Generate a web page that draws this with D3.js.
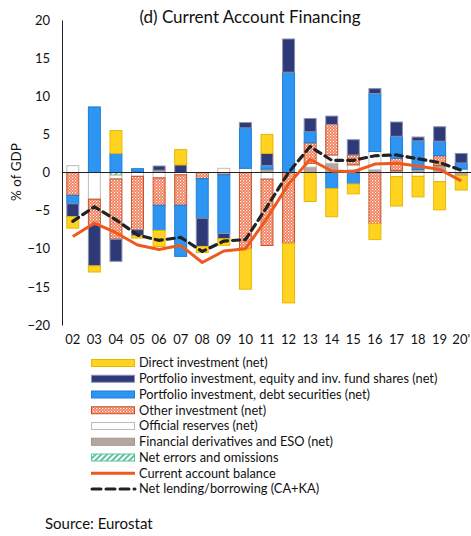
<!DOCTYPE html>
<html><head><meta charset="utf-8">
<script src="https://cdn.jsdelivr.net/npm/d3@7"></script>
<style>body{margin:0;background:#fff;} text{font-family:Lato,"Open Sans",sans-serif;fill:#111;}</style>
</head><body><svg id="c" width="471" height="536"></svg>
<script>
const years = ["02","03","04","05","06","07","08","09","10","11","12","13","14","15","16","17","18","19","20'"];
const directInv   = [-1.5,-0.8, 3.0,-0.3,-2.1, 2.0,-0.8,-0.85,-5.3, 2.5,-7.8,-3.8,-3.7,-1.3,-2.1,-3.85,-2.7,-3.7,-1.9];
const portEquity  = [-1.7,-5.4,-2.9,-0.8, 0.55, 1.0,-3.7,-0.7, 0.7, 1.6, 4.36, 1.74, 1.1, 2.0, 0.65, 1.87, 0.5, 1.9, 1.25];
const portDebt    = [-1.1, 8.6, 2.5, 0.35,-3.3,-6.7,-5.2,-7.7, 5.3, 0.45, 13.15, 1.44,-2.1,-1.5, 7.6, 2.9, 3.75, 1.9, 0.8];
const otherInv    = [-3.0,-3.35,-7.9,-7.0,-3.6,-4.0,-0.8,-0.3,-10.0,-8.7,-9.3, 2.7, 4.0, 1.3,-6.7, 1.6, 0, 1.3, 0];
const officialRes = [ 0.9,-3.5,-0.5,-0.5,-0.7,-0.3, 0, 0.55, 0.55,-0.87, 0, 0.5, 1.1, 0.65, 2.4,-0.55,-0.5,-1.2, 0.45];
const derivatives = [ 0, 0, 0, 0.15, 0.3, 0, 0, 0, 0, 0.45, 0, 0.7, 1.2, 0.35, 0.35, 0.25, 0.4, 0.9,-0.4];
const netErrors   = [ 0, 0,-0.35, 0, 0, 0, 0, 0, 0, 0, 0, 0, 0, 0, 0, 0, 0, 0, 0];
const currentAcc  = [-8.4,-6.65,-7.9,-9.5,-10.1,-9.55,-11.8,-10.3,-10.0,-6.0,-1.5, 1.7, 0.2, 0.1, 1.1, 1.2, 0.85, 0.4,-1.1];
const netLending  = [-6.4,-4.5,-6.2,-8.2,-8.9,-8.5,-10.35,-9.0,-8.8,-4.5, 0.0, 3.4, 1.6, 1.6, 2.2, 2.3, 1.8, 1.3, 0.3];
const yTicks = [20,15,10,5,0,-5,-10,-15,-20];
const legendLabels = ["Direct investment (net)","Portfolio investment, equity and inv. fund shares (net)","Portfolio investment, debt securities (net)","Other investment (net)","Official reserves (net)","Financial derivatives and ESO (net)","Net errors and omissions","Current account balance","Net lending/borrowing (CA+KA)"];

const svg = d3.select("#c");
const defs = svg.append("defs");
const pOI = defs.append("pattern").attr("id","pOI").attr("patternUnits","userSpaceOnUse").attr("width",3).attr("height",3);
pOI.append("rect").attr("width",3).attr("height",3).attr("fill","#F07A55");
pOI.append("rect").attr("x",0).attr("y",0).attr("width",1.2).attr("height",1.2).attr("fill","#fff");
pOI.append("rect").attr("x",1.5).attr("y",1.5).attr("width",1.2).attr("height",1.2).attr("fill","#fde3d8");
const pNE = defs.append("pattern").attr("id","pNE").attr("patternUnits","userSpaceOnUse").attr("width",4).attr("height",4).attr("patternTransform","rotate(45)");
pNE.append("rect").attr("width",4).attr("height",4).attr("fill","#fff");
pNE.append("rect").attr("width",2).attr("height",4).attr("fill","#5CC39C");

const style = {
  di:{fill:"#FFD320",stroke:"#E8B700"},
  pe:{fill:"#2E3A78",stroke:"#8C91AE"},
  pd:{fill:"#2E95F2",stroke:"#1C7ED6"},
  oi:{fill:"url(#pOI)",stroke:"#C8522A"},
  or:{fill:"#FFFFFF",stroke:"#BDBDBD"},
  der:{fill:"#B5A79F",stroke:"#A0938B"},
  neo:{fill:"url(#pNE)",stroke:"#5CC39C"}
};
const keys = ["neo","der","or","oi","pd","pe","di"];
const rows = years.map((yr,i)=>({year:yr,di:directInv[i],pe:portEquity[i],pd:portDebt[i],oi:otherInv[i],or:officialRes[i],der:derivatives[i],neo:netErrors[i]}));
const series = d3.stack().keys(keys).offset(d3.stackOffsetDiverging)(rows);

const x = d3.scaleBand().domain(years).range([62,472]).paddingInner(0.4).paddingOuter(0.2);
const y = d3.scaleLinear().domain([-20,20]).range([325,20]);

const g = svg.append("g");
series.forEach(s=>{
  g.append("g").selectAll("rect").data(s.filter(d=>d[1]!==d[0])).join("rect")
    .attr("x",d=>x(d.data.year)+0.5).attr("width",x.bandwidth()-1)
    .attr("y",d=>y(Math.max(d[0],d[1])))
    .attr("height",d=>Math.abs(y(d[0])-y(d[1])))
    .attr("fill",style[s.key].fill).attr("stroke",style[s.key].stroke).attr("stroke-width",1);
});

// zero line
svg.append("line").attr("x1",62).attr("x2",471).attr("y1",y(0)).attr("y2",y(0)).attr("stroke","#222").attr("stroke-width",1);

// y axis
const ya = svg.append("g").attr("transform","translate(62,0)")
  .call(d3.axisLeft(y).tickValues(yTicks).tickSize(0).tickSizeOuter(0).tickPadding(12));
ya.select(".domain").attr("stroke","#222");
ya.selectAll("text").attr("font-size",13).style("font-family","Lato");

// x axis
const xa = svg.append("g").attr("transform","translate(0,331)")
  .call(d3.axisBottom(x).tickSize(0).tickPadding(4));
xa.select(".domain").remove();
xa.selectAll("text").attr("font-size",13).style("font-family","Lato");

// lines
const lineGen = d3.line().x((d,i)=>x(years[i])+x.bandwidth()/2).y(d=>y(d));
svg.append("path").datum(currentAcc).attr("d",lineGen).attr("fill","none").attr("stroke","#EE5A1E").attr("stroke-width",3).attr("stroke-linejoin","round");
svg.append("path").datum(netLending).attr("d",lineGen).attr("fill","none").attr("stroke","#222").attr("stroke-width",3.2).attr("stroke-dasharray","7,5").attr("stroke-linecap","round");

// title & labels
svg.append("text").attr("x",250).attr("y",23).attr("text-anchor","middle").attr("font-size",17).text("(d) Current Account Financing");
svg.append("text").attr("transform","translate(21,172) rotate(-90)").attr("text-anchor","middle").attr("font-size",13.5).text("% of GDP");

// legend
const legKeys = ["di","pe","pd","oi","or","der","neo"];
const lg = svg.append("g");
legendLabels.forEach((lab,i)=>{
  const cy = 363 + i*15.75;
  if(i<7){
    const st = style[legKeys[i]];
    lg.append("rect").attr("x",91.5).attr("y",cy-3.5).attr("width",43).attr("height",7).attr("fill",st.fill).attr("stroke",st.stroke);
  } else if(i===7){
    lg.append("line").attr("x1",91).attr("x2",135).attr("y1",cy).attr("y2",cy).attr("stroke","#EE5A1E").attr("stroke-width",3);
  } else {
    lg.append("line").attr("x1",92).attr("x2",135).attr("y1",cy).attr("y2",cy).attr("stroke","#222").attr("stroke-width",3).attr("stroke-dasharray","9,5").attr("stroke-linecap","round");
  }
  lg.append("text").attr("x",139).attr("y",cy).attr("dy","0.35em").attr("font-size",12.8).text(lab);
});
svg.append("text").attr("x",45).attr("y",524).attr("dy","0.35em").attr("font-size",15).text("Source: Eurostat");
</script></body></html>
